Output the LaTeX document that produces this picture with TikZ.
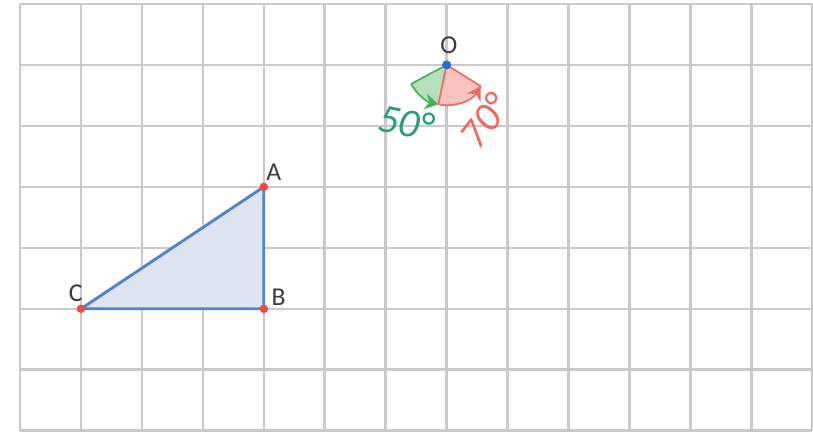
\documentclass[tikz,border=0pt]{standalone}
\usepackage{fontspec}
\setmainfont{Carlito}
\usetikzlibrary{arrows.meta,positioning}
\definecolor{gridc}{HTML}{C9C9C9}
\definecolor{triline}{HTML}{4A86C8}
\definecolor{trifill}{HTML}{DCE4F2}
\definecolor{ptred}{HTML}{EE4A3F}
\definecolor{ptblue}{HTML}{2C6BD1}
\definecolor{greenc}{HTML}{45B05A}
\definecolor{redc}{HTML}{EE6A5E}
\definecolor{tealc}{HTML}{2A9D7C}
\definecolor{labc}{HTML}{3A3A3A}
\tikzset{
  lab/.style={inner sep=0pt,text=labc,font=\fontsize{12}{14}\selectfont},
  angtxt/.style={inner sep=0pt,font=\fontsize{19}{21}\selectfont\itshape},
  arcar/.style={thick,-{Stealth[length=2.2mm,width=2.6mm]}}
}
\begin{document}
\begin{tikzpicture}
\useasboundingbox (-0.328,-0.02) rectangle (13.01,7.066);
\draw[gridc,line width=1.2pt] (0,0) grid (13,7);
% triangle
\coordinate (C) at (1,2); \coordinate (B) at (4,2); \coordinate (A) at (4,4);
\filldraw[triline,line width=1.3pt,fill=trifill] (C)--(B)--(A)--cycle;
\fill[ptred] (A) circle (0.07); \fill[ptred] (B) circle (0.07); \fill[ptred] (C) circle (0.07);
\node[lab,above right=3pt and 1pt of A] (Alab) {A};
\node[lab,above right=1.5pt and 3.5pt of B] (Blab) {B};
\node[lab,above left=3pt and -1pt of C] (Clab) {C};
% angles at O
\coordinate (O) at (7,6);
\fill[greenc!40] (O) -- ++(208:0.66) arc[start angle=208,end angle=258,radius=0.66] -- cycle;
\fill[redc!40] (O) -- ++(258:0.66) arc[start angle=258,end angle=328,radius=0.66] -- cycle;
\draw[greenc,thick] (O) -- ++(208:0.66);
\draw[greenc,arcar] ([shift={(208:0.66)}]O) arc[start angle=208,end angle=258,radius=0.66];
\draw[redc,thick] (O) -- ++(258:0.66);
\draw[redc,thick] (O) -- ++(328:0.66);
\draw[redc,arcar] ([shift={(258:0.66)}]O) arc[start angle=258,end angle=328,radius=0.66];
\fill[ptblue] (O) circle (0.075);
\node[lab,above=5pt of O,xshift=1pt] (Olab) {O};
\node[angtxt,text=tealc,rotate=-12] (a50) at (6.33,5.06) {50°};
\node[angtxt,text=redc,rotate=52] (a70) at (7.62,5.08) {70°};
\end{tikzpicture}
\end{document}
